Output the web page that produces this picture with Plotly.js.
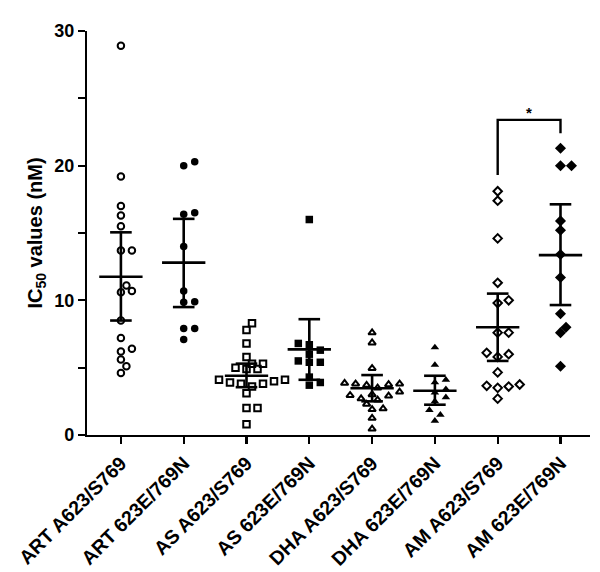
<!DOCTYPE html>
<html><head><meta charset="utf-8">
<script src="https://cdn.plot.ly/plotly-3.0.1.min.js"></script>
<style>html,body{margin:0;padding:0;background:#fff}</style>
</head><body><div id="chart" style="width:600px;height:572px"></div>
<script>
// ---- data ----
const categories = ["ART A623/S769","ART 623E/769N","AS A623/S769","AS 623E/769N",
                    "DHA A623/S769","DHA 623E/769N","AM A623/S769","AM 623E/769N"];
const artWT  = [28.9, 19.2, 17.0, 16.3, 15.5, 13.7, 13.7, 11.1, 10.7, 10.6, 8.5, 7.2, 6.4, 6.2, 5.6, 5.1, 4.6];
const artMut = [20.3, 20.0, 16.5, 16.4, 14.0, 10.7, 9.9, 9.85, 7.9, 7.9, 7.1];
const asWT   = [8.3, 7.8, 6.8, 5.8, 5.3, 5.3, 5.0, 4.9, 4.9, 4.1, 4.1, 4.0, 3.9, 3.8, 3.8, 3.6, 3.1, 2.0, 2.0, 0.8];
const asMut  = [16.0, 6.8, 6.7, 6.3, 6.0, 5.5, 5.4, 5.4, 4.3, 3.9, 3.7];
const dhaWT  = [7.6, 6.85, 4.95, 3.85, 3.8, 3.75, 3.8, 3.7, 3.5, 3.2, 3.0, 2.95, 2.9, 2.7, 2.6, 2.3, 1.95, 1.9, 1.25, 0.45];
const dhaMut = [6.5, 5.2, 4.1, 3.9, 3.4, 3.15, 2.8, 2.5, 1.85, 1.5, 1.05];
const amWT   = [18.1, 17.4, 14.6, 11.3, 10.0, 9.8, 7.6, 7.6, 6.1, 6.0, 5.8, 4.65, 3.75, 3.65, 3.6, 3.5, 2.7];
const amMut  = [21.3, 20.0, 20.0, 15.9, 15.2, 13.4, 11.7, 9.0, 8.0, 7.6, 5.1];
const means  = [11.75, 12.8, 4.4, 6.36, 3.47, 3.29, 8.0, 13.36];
const ciHigh = [15.05, 16.05, 5.3, 8.6, 4.45, 4.4, 10.5, 17.13];
const ciLow  = [8.5, 9.5, 3.55, 4.1, 2.5, 2.25, 5.5, 9.65];
const yTickVals = [0, 10, 20, 30];
const yTickText = ["0", "10", "20", "30"];
const sigGroups = [6, 7];         // compared groups
const sigLegs   = [19.3, 22.4];   // bottom of each bracket leg
const sigTop    = 23.4;
const sigLabel  = "*";

// ---- styling / layout ----
const groups = [artWT, artMut, asWT, asMut, dhaWT, dhaMut, amWT, amMut];
const symbols = ["circle-open","circle","square-open","square","triangle-up-open","triangle-up","diamond-open","diamond"];
const FONT = 'Arial, "Liberation Sans", Helvetica, sans-serif';
const M = {l: 87, r: 10, t: 31, b: 137};
const XR = [-0.54, 7.47], YR = [0, 30];
const plotW = 600 - M.l - M.r, plotH = 572 - M.t - M.b;
const pxX = plotW / (XR[1] - XR[0]), pxY = plotH / (YR[1] - YR[0]);
const STEP = 5.5, DIAM = 7.6;

function swarm(vals) {
  const placed = [], offs = new Array(vals.length);
  const order = vals.map((v, i) => i).sort((a, b) => vals[a] - vals[b]);
  for (const i of order) {
    const y = vals[i] * pxY;
    for (let k = 0; k < 60; k++) {
      const o = (k === 0 ? 0 : (k % 2 ? Math.ceil(k / 2) : -Math.ceil(k / 2))) * STEP;
      if (placed.every(p => Math.hypot(p.x - o, p.y - y) >= DIAM)) {
        placed.push({x: o, y: y}); offs[i] = o / pxX; break;
      }
    }
  }
  return offs;
}

const traces = [];
groups.forEach((vals, g) => {
  const offs = swarm(vals);
  const open = symbols[g].endsWith("open");
  traces.push({
    type: "scatter", mode: "markers",
    x: offs.map(o => g + o), y: vals,
    marker: {symbol: symbols[g], color: "#000",
             size: open ? 6.5 : (symbols[g] === "diamond" ? 8.5 : 7.5),
             line: {color: "#000", width: open ? 2 : 0}},
    hoverinfo: "y", showlegend: false
  });
});

// mean and 95% CI lines
const MW = 0.345, CW = 0.172;
const lx = [], ly = [];
means.forEach((m, g) => {
  lx.push(g - MW, g + MW, null); ly.push(m, m, null);
  lx.push(g, g, null); ly.push(ciLow[g], ciHigh[g], null);
  lx.push(g - CW, g + CW, null); ly.push(ciHigh[g], ciHigh[g], null);
  lx.push(g - CW, g + CW, null); ly.push(ciLow[g], ciLow[g], null);
});
traces.push({type: "scatter", mode: "lines", x: lx, y: ly,
  line: {color: "#000", width: 2.6}, hoverinfo: "skip", showlegend: false});

// significance bracket
traces.push({type: "scatter", mode: "lines",
  x: [sigGroups[0], sigGroups[0], sigGroups[1], sigGroups[1]],
  y: [sigLegs[0], sigTop, sigTop, sigLegs[1]],
  line: {color: "#000", width: 2.4}, hoverinfo: "skip", showlegend: false});

const layout = {
  width: 600, height: 572,
  margin: M,
  paper_bgcolor: "#fff", plot_bgcolor: "#fff",
  font: {family: FONT, color: "#000"},
  showlegend: false,
  xaxis: {
    range: XR, showgrid: false, zeroline: false,
    showline: true, linecolor: "#000", linewidth: 2.2,
    ticks: "outside", ticklen: 7, tickwidth: 2.2, tickcolor: "#000",
    tickmode: "array", tickvals: categories.map((c, i) => i), ticktext: categories,
    tickangle: -45, automargin: false,
    tickfont: {family: FONT, size: 19.5, weight: 700, color: "#000"}
  },
  yaxis: {
    range: YR, showgrid: false, zeroline: false,
    showline: true, linecolor: "#000", linewidth: 2.2,
    ticks: "outside", ticklen: 7, tickwidth: 2.2, tickcolor: "#000",
    tickmode: "array", tickvals: yTickVals, ticktext: yTickText,
    minor: {dtick: 5, tick0: 0, ticks: "outside", ticklen: 7, tickwidth: 2.2, tickcolor: "#000", showgrid: false},
    automargin: false,
    tickfont: {family: FONT, size: 18, weight: 700, color: "#000"},
    title: {text: "IC<sub>50</sub> values (nM)", standoff: 6,
            font: {family: FONT, size: 20, weight: 700, color: "#000"}}
  },
  annotations: [{
    x: (sigGroups[0] + sigGroups[1]) / 2, y: sigTop, xref: "x", yref: "y",
    text: sigLabel, showarrow: false, yanchor: "bottom", yshift: -3,
    font: {family: FONT, size: 15, weight: 700, color: "#000"}
  }]
};

Plotly.newPlot("chart", traces, layout, {displayModeBar: false, staticPlot: true});
</script>
</body></html>
